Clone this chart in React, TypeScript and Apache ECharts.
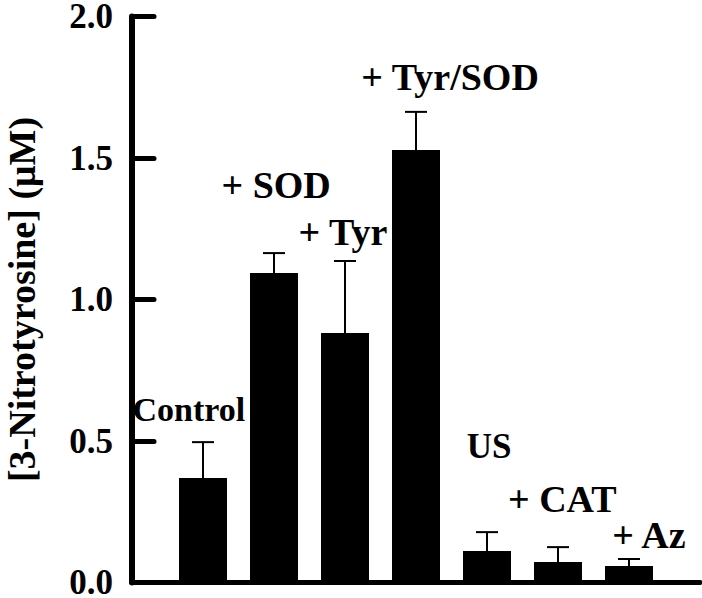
import React, { useEffect, useRef } from "react";
import * as echarts from "echarts";

const categories = ["Control", "+ SOD", "+ Tyr", "+ Tyr/SOD", "US", "+ CAT", "+ Az"];
const barValues = [0.369, 1.094, 0.882, 1.528, 0.111, 0.072, 0.058];
const errorValues = [0.127, 0.07, 0.254, 0.135, 0.067, 0.053, 0.025];
const yTicks = [0, 0.5, 1.0, 1.5, 2.0];
// annotation anchors in data coordinates (x position, y value)
const labelX = [0.8, 2.03, 2.97, 4.48, 5.03, 6.06, 7.28];
const labelY = [0.61, 1.405, 1.239, 1.786, 0.479, 0.295, 0.168];
const labelFontSizes = [34, 38, 38, 38, 35, 38, 38];

const FONT = "'Liberation Serif', 'Times New Roman', serif";

export default function App() {
  const ref = useRef<HTMLDivElement>(null);
  useEffect(() => {
    if (!ref.current) return;
    const chart = echarts.init(ref.current, null, { renderer: "svg" });
    const xPos = categories.map((_, i) => i + 1);
    chart.setOption({
      animation: false,
      backgroundColor: "#ffffff",
      grid: {
        left: 132,
        right: 2,
        top: 16.5,
        bottom: 15.5,
        containLabel: false,
        outerBoundsMode: "none",
      },
      xAxis: {
        type: "value",
        min: 0,
        max: 8,
        axisLine: { show: true, lineStyle: { color: "#000", width: 5, cap: "round" } },
        axisTick: { show: false },
        axisLabel: { show: false },
        splitLine: { show: false },
      },
      yAxis: {
        type: "value",
        min: yTicks[0],
        max: yTicks[yTicks.length - 1],
        interval: 0.5,
        name: "[3-Nitrotyrosine] (\u03bcM)",
        nameLocation: "middle",
        nameRotate: 90,
        nameGap: 93,
        nameTextStyle: {
          fontFamily: FONT,
          fontWeight: "bold",
          fontSize: 38,
          lineHeight: 34,
          color: "#000",
        },
        axisLine: { show: true, lineStyle: { color: "#000", width: 6, cap: "round" } },
        axisTick: { show: true, inside: true, length: 22, lineStyle: { color: "#000", width: 5, cap: "round" } },
        axisLabel: {
          margin: 19,
          formatter: (v: number) => v.toFixed(1),
          fontFamily: FONT,
          fontWeight: "bold",
          fontSize: 35,
          lineHeight: 28,
          color: "#000",
        },
        splitLine: { show: false },
      },
      series: [
        {
          type: "bar",
          data: xPos.map((x, i) => [x, barValues[i]]),
          barWidth: 48,
          itemStyle: { color: "#000" },
          z: 2,
        },
        {
          type: "custom",
          data: xPos.map((x, i) => [x, barValues[i], barValues[i] + errorValues[i]]),
          renderItem: (params: any, api: any) => {
            const x = api.value(0);
            const lo = api.coord([x, api.value(1)]);
            const hi = api.coord([x, api.value(2)]);
            const half = 11;
            const style = { stroke: "#000", lineWidth: 2 };
            return {
              type: "group",
              children: [
                { type: "line", shape: { x1: lo[0], y1: lo[1], x2: hi[0], y2: hi[1] }, style },
                { type: "line", shape: { x1: hi[0] - half, y1: hi[1], x2: hi[0] + half, y2: hi[1] }, style },
              ],
            };
          },
          z: 3,
        },
        {
          type: "scatter",
          symbolSize: 0,
          itemStyle: { opacity: 1, color: "#000" },
          data: labelX.map((x, i) => ({
            value: [x, labelY[i]],
            name: categories[i],
            label: { fontSize: labelFontSizes[i] },
          })),
          label: {
            show: true,
            position: "inside",
            formatter: (p: any) => p.name,
            fontFamily: FONT,
            fontWeight: "bold",
            fontSize: 38,
            color: "#000",
            opacity: 1,
          },
          emphasis: { disabled: true },
          z: 4,
        },
      ],
    });
    return () => chart.dispose();
  }, []);
  return (
    <div
      ref={ref}
      style={{ position: "absolute", left: 0, top: 0, width: 702, height: 598, background: "#fff" }}
    />
  );
}
